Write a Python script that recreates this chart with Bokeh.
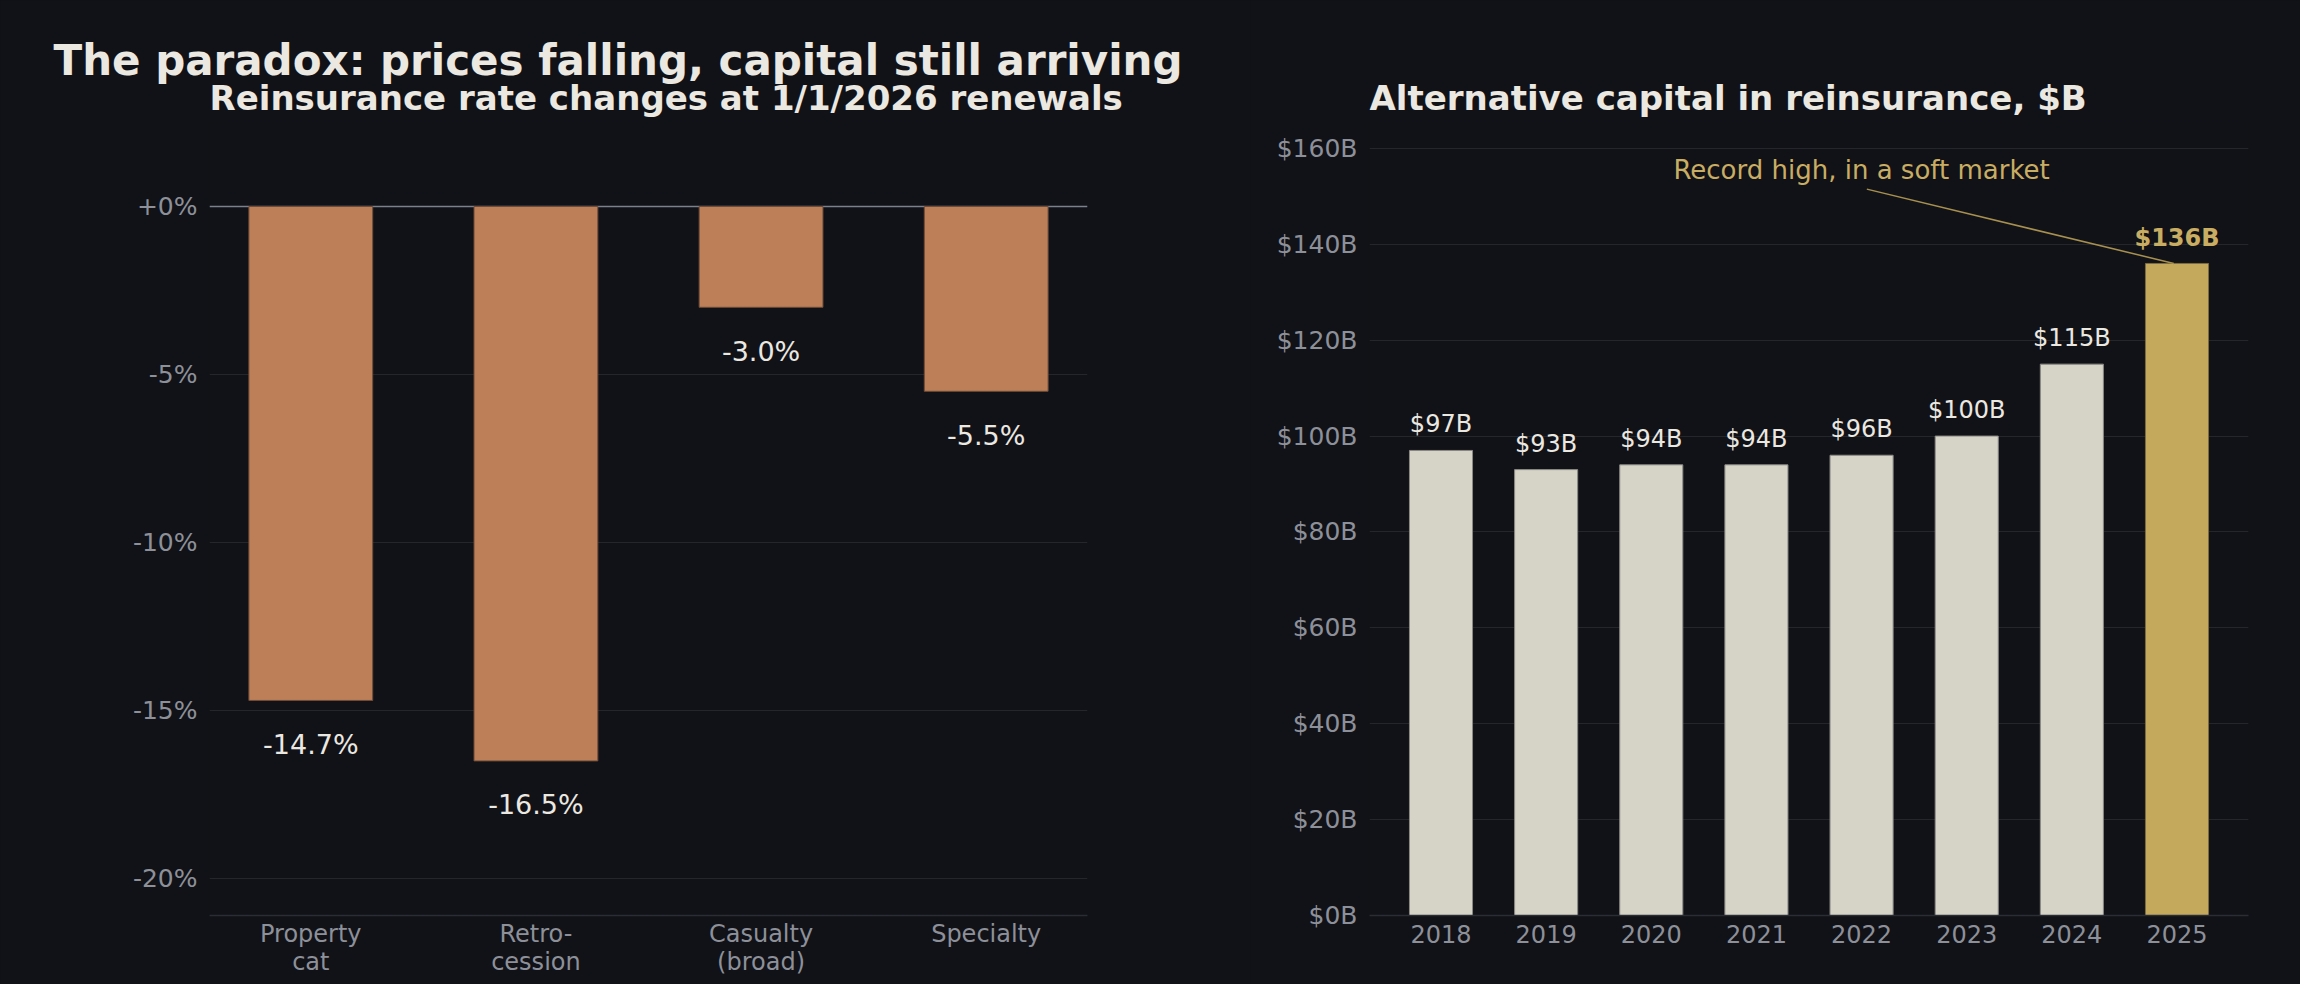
from bokeh.plotting import figure
from bokeh.models import Range1d, FixedTicker, Span, Title, ColumnDataSource
from bokeh.layouts import row
from bokeh.embed import file_html
from bokeh.resources import INLINE
from bokeh.core.properties import value

# ---------------- data ----------------
main_title = "The paradox: prices falling, capital still arriving"
left_title = "Reinsurance rate changes at 1/1/2026 renewals"
right_title = "Alternative capital in reinsurance, $B"

categories = ["Property\ncat", "Retro-\ncession", "Casualty\n(broad)", "Specialty"]
rate_changes = [-14.7, -16.5, -3.0, -5.5]

years = ["2018", "2019", "2020", "2021", "2022", "2023", "2024", "2025"]
alt_capital = [97, 93, 94, 94, 96, 100, 115, 136]

left_ticks = [0, -5, -10, -15, -20]
left_tick_labels = ["+0%", "-5%", "-10%", "-15%", "-20%"]
right_ticks = [0, 20, 40, 60, 80, 100, 120, 140, 160]
right_tick_labels = ["$0B", "$20B", "$40B", "$60B", "$80B", "$100B", "$120B", "$140B", "$160B"]

annotation_text = "Record high, in a soft market"

# ---------------- style ----------------
BG = "#111217"
GRID = "#25262c"
TICK = "#8d9099"
VALUE = "#ebe8e1"
ORANGE = "#bd7f58"
CREAM = "#d6d3c7"
GOLD = "#c4a95d"
GOLD_TEXT = "#c9ad62"
FONT = "DejaVu Sans"
TITLE_COLOR = "#ebe8e1"
SUB_SIZE = "34px"
SUB_STANDOFF = 9


def style(p):
    p.outline_line_color = None
    p.background_fill_color = BG
    p.border_fill_color = BG
    p.xgrid.visible = False
    p.ygrid.grid_line_color = GRID
    p.ygrid.grid_line_width = 1.2
    for ax in p.yaxis:
        ax.axis_line_color = None
        ax.major_tick_line_color = None
        ax.minor_tick_line_color = None
        ax.major_label_text_color = TICK
        ax.major_label_text_font = FONT
        ax.major_label_text_font_size = "25px"
        ax.major_label_standoff = 6
    for ax in p.xaxis:
        ax.axis_line_color = "#2b2d34"
        ax.axis_line_width = 1.5
        ax.major_tick_line_color = None
        ax.minor_tick_line_color = None
        ax.major_label_text_color = TICK
        ax.major_label_text_font = FONT
        ax.major_label_text_font_size = "24px"
        ax.major_label_text_line_height = 1.0
        ax.major_label_standoff = 3
    p.title.text_font = FONT
    p.title.text_font_style = "bold"
    p.title.text_color = TITLE_COLOR
    p.title.align = "left"


# ---------------- left chart ----------------
idx_l = list(range(len(categories)))
src_l = ColumnDataSource(dict(
    x=idx_l, v=rate_changes, zero=[0] * len(idx_l),
    lab=[f"{v:.1f}%" for v in rate_changes]))

p1 = figure(width=1250, height=984, title=main_title,
            x_range=Range1d(-0.45, 3.45), y_range=Range1d(-21.1, 2.5),
            output_backend="svg", toolbar_location=None,
            min_border_left=209, min_border_right=163,
            min_border_top=122, min_border_bottom=69)
style(p1)
p1.title.text_font_size = "42px"
p1.title.offset = -156
p1.title.standoff = -26
p1.xaxis.major_label_standoff = -2
p1.add_layout(Title(text=left_title, text_font=FONT, text_font_size=SUB_SIZE,
                    text_font_style="bold", text_color=TITLE_COLOR,
                    align="left", standoff=SUB_STANDOFF), "above")

p1.yaxis.ticker = FixedTicker(ticks=left_ticks)
p1.ygrid.ticker = FixedTicker(ticks=left_ticks)
p1.yaxis.major_label_overrides = {t: s for t, s in zip(left_ticks, left_tick_labels)}
p1.xaxis.ticker = FixedTicker(ticks=idx_l)
p1.xaxis.major_label_overrides = {i: c for i, c in zip(idx_l, categories)}

p1.add_layout(Span(location=0, dimension="width", line_color="#7d808a",
                   line_width=1.5, level="underlay"))
p1.vbar(x="x", top="zero", bottom="v", width=0.55, source=src_l,
        fill_color=ORANGE, line_color="#6e4c39", line_width=1)
p1.text(x="x", y="v", text="lab", source=src_l, text_align="center",
        text_baseline="middle", y_offset=44, text_font=value(FONT),
        text_font_size="27px", text_color=VALUE)

# ---------------- right chart ----------------
idx_r = list(range(len(years)))
imax = alt_capital.index(max(alt_capital))
colors = [GOLD if i == imax else CREAM for i in idx_r]
edges = ["#7d6c3f" if i == imax else "#8a8985" for i in idx_r]
src_r = ColumnDataSource(dict(x=idx_r, v=alt_capital, c=colors, e=edges))
norm_idx = [i for i in idx_r if i != imax]
src_lab = ColumnDataSource(dict(
    x=norm_idx, v=[alt_capital[i] for i in norm_idx],
    lab=[f"${alt_capital[i]}B" for i in norm_idx]))
src_max = ColumnDataSource(dict(x=[imax], v=[alt_capital[imax]],
                                lab=[f"${alt_capital[imax]}B"]))

p2 = figure(width=1050, height=984, title=right_title,
            x_range=Range1d(-0.68, 7.68), y_range=Range1d(0, 165.4),
            output_backend="svg", toolbar_location=None,
            min_border_left=119, min_border_right=52,
            min_border_top=122, min_border_bottom=69)
style(p2)
p2.title.text_font_size = SUB_SIZE
p2.title.standoff = SUB_STANDOFF
p2.yaxis.ticker = FixedTicker(ticks=right_ticks)
p2.ygrid.ticker = FixedTicker(ticks=right_ticks)
p2.yaxis.major_label_overrides = {t: s for t, s in zip(right_ticks, right_tick_labels)}
p2.xaxis.ticker = FixedTicker(ticks=idx_r)
p2.xaxis.major_label_overrides = {i: y for i, y in zip(idx_r, years)}

p2.vbar(x="x", top="v", bottom=0, width=0.6, source=src_r,
        fill_color="c", line_color="e", line_width=1)
p2.text(x="x", y="v", text="lab", source=src_lab, text_align="center",
        text_baseline="middle", y_offset=-26, text_font=value(FONT),
        text_font_size="24px", text_color=VALUE)
p2.text(x="x", y="v", text="lab", source=src_max, text_align="center",
        text_baseline="middle", y_offset=-25, text_font=value(FONT),
        text_font_size="24px", text_font_style="bold", text_color=GOLD_TEXT)

# annotation: text placed above, leader line to top of record bar
ann_x, ann_y = 4.0, 155.4
p2.segment(x0=[ann_x + 0.05], y0=[ann_y - 3.9], x1=[imax - 0.03],
           y1=[alt_capital[imax]], line_color="#a8914f", line_width=1.5)
p2.text(x=[ann_x], y=[ann_y], text=[annotation_text], text_align="center",
        text_baseline="middle", text_font=value(FONT), text_font_size="26px",
        text_color=GOLD_TEXT)

layout = row(p1, p2, spacing=0)
layout.styles = {"background-color": BG}

open("out.html", "w").write(file_html(layout, INLINE))
